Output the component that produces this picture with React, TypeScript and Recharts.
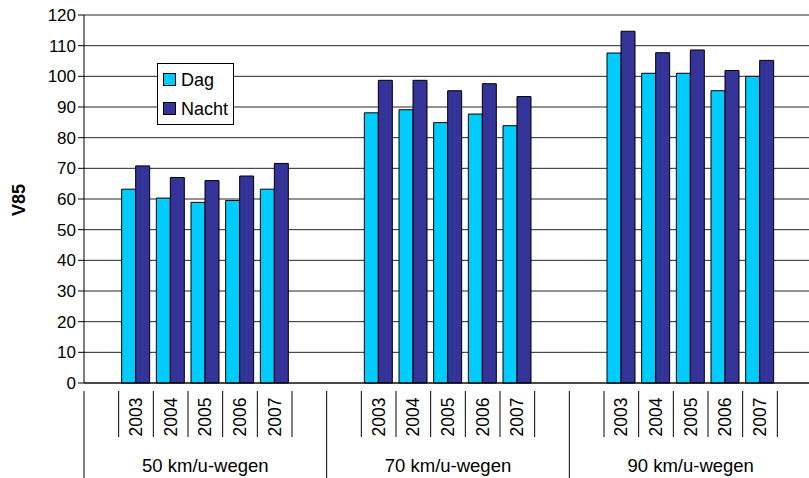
import { Bar, BarChart, CartesianGrid, Legend, XAxis, YAxis } from "recharts";

const groups = ["50 km/u-wegen", "70 km/u-wegen", "90 km/u-wegen"];
const years = ["2003", "2004", "2005", "2006", "2007"];

const dag50 = [63.2, 60.3, 58.9, 59.5, 63.2];
const nacht50 = [70.8, 67.0, 66.0, 67.5, 71.6];
const dag70 = [88.1, 89.1, 84.9, 87.7, 83.9];
const nacht70 = [98.7, 98.7, 95.3, 97.6, 93.4];
const dag90 = [107.6, 101.0, 101.0, 95.3, 100.0];
const nacht90 = [114.7, 107.7, 108.6, 101.9, 105.2];

const yTicks = [0, 10, 20, 30, 40, 50, 60, 70, 80, 90, 100, 110, 120];

const DAG = "#00CCFF";
const NACHT = "#333399";
const FONT = "'Liberation Sans', Arial, sans-serif";

// each group gets an empty slot before and after its five years
const dagByGroup = [dag50, dag70, dag90];
const nachtByGroup = [nacht50, nacht70, nacht90];
const data: Array<{ id: string; year: string; dag: number | null; nacht: number | null }> = [];
groups.forEach((g, gi) => {
  data.push({ id: `${gi}-pre`, year: "", dag: null, nacht: null });
  years.forEach((y, yi) => {
    data.push({ id: `${gi}-${y}`, year: y, dag: dagByGroup[gi][yi], nacht: nachtByGroup[gi][yi] });
  });
  data.push({ id: `${gi}-post`, year: "", dag: null, nacht: null });
});

const CHART_W = 820;
const CHART_H = 478;
const LEFT = 84;
const RIGHT_MARGIN = 8;
const TOP = 15;
const AXIS_H = 95;
const slotW = (CHART_W - LEFT - RIGHT_MARGIN) / data.length;

function CategoryTick(props: any) {
  const { x, y, payload } = props;
  const i = payload.index as number;
  const pos = i % 7;
  const row = data[i];
  const left = x - slotW / 2;
  const right = x + slotW / 2;
  return (
    <g>
      {pos === 0 && (
        <>
          <line x1={left} y1={y} x2={left} y2={CHART_H} stroke="#000" />
          <text
            x={left + (slotW * 7) / 2}
            y={465}
            textAnchor="middle"
            dominantBaseline="central"
            fontSize={18.5}
            fontFamily={FONT}
            fill="#000"
          >
            {groups[Math.floor(i / 7)]}
          </text>
        </>
      )}
      {pos >= 1 && pos <= 5 && (
        <>
          <line x1={left} y1={y} x2={left} y2={437} stroke="#000" />
          {pos === 5 && <line x1={right} y1={y} x2={right} y2={437} stroke="#000" />}
          <text
            x={x}
            y={417}
            transform={`rotate(-90 ${x} 417)`}
            textAnchor="middle"
            dominantBaseline="central"
            fontSize={17.5}
            fontFamily={FONT}
            fill="#000"
          >
            {row.year}
          </text>
        </>
      )}
    </g>
  );
}

function LegendBox() {
  const item = (color: string, label: string) => (
    <div style={{ display: "flex", alignItems: "center", height: 29 }}>
      <span
        style={{
          display: "inline-block",
          width: 11,
          height: 11,
          background: color,
          border: "1px solid #000",
          marginRight: 5,
        }}
      />
      <span>{label}</span>
    </div>
  );
  return (
    <div
      style={{
        border: "1px solid #000",
        background: "#fff",
        padding: "1px 0 1px 5px",
        width: 77,
        fontFamily: FONT,
        fontSize: 18,
        color: "#000",
        boxSizing: "border-box",
        lineHeight: 1,
      }}
    >
      {item(DAG, "Dag")}
      {item(NACHT, "Nacht")}
    </div>
  );
}

export default function App() {
  return (
    <div
      style={{
        position: "absolute",
        left: 0,
        top: 0,
        width: 809,
        height: 478,
        overflow: "hidden",
        background: "#fff",
      }}
    >
      <BarChart
        width={CHART_W}
        height={CHART_H}
        data={data}
        margin={{ top: TOP, right: RIGHT_MARGIN, left: 0, bottom: 0 }}
        barCategoryGap={3}
        barGap={0}
      >
        <CartesianGrid vertical={false} stroke="#000" strokeOpacity={0.85} />
        <XAxis
          dataKey="id"
          height={AXIS_H}
          interval={0}
          tickLine={false}
          axisLine={{ stroke: "#000" }}
          tick={<CategoryTick />}
        />
        <YAxis
          width={LEFT}
          domain={[0, 120]}
          ticks={yTicks}
          interval={0}
          tickSize={6}
          tickLine={{ stroke: "#000" }}
          axisLine={{ stroke: "#000" }}
          tick={{ fontSize: 17, fontFamily: FONT, fill: "#000" }}
          label={{
            content: () => (
              <text
                x={19}
                y={200}
                transform="rotate(-90 19 200)"
                textAnchor="middle"
                dominantBaseline="central"
                fontSize={18}
                fontWeight="bold"
                fontFamily={FONT}
                fill="#000"
              >
                V85
              </text>
            ),
          }}
        />
        <Legend
          layout="horizontal"
          verticalAlign="middle"
          align="center"
          wrapperStyle={{ left: 157, top: 63, width: 77 }}
          content={() => <LegendBox />}
        />
        <Bar dataKey="dag" name="Dag" fill={DAG} stroke="#000" strokeWidth={1} isAnimationActive={false} />
        <Bar dataKey="nacht" name="Nacht" fill={NACHT} stroke="#000" strokeWidth={1} isAnimationActive={false} />
      </BarChart>
    </div>
  );
}
